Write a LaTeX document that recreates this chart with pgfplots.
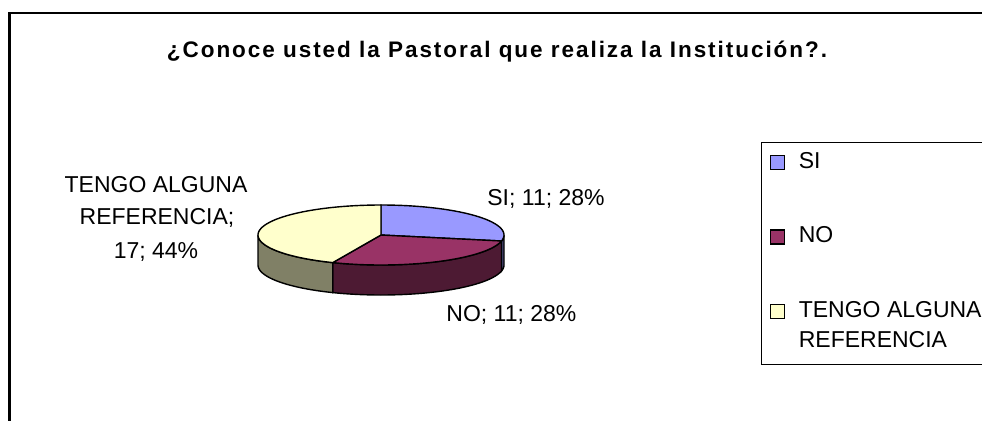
\documentclass[border=0pt]{standalone}
\usepackage{fontspec}
\setmainfont{Liberation Sans}
\usepackage{pgfplots}
\pgfplotsset{compat=1.18}
\usepackage{pgfplotstable}

\pgfplotstableread{
label value
SI 11
NO 11
TENGO 17
}\piedata

\definecolor{cSI}{HTML}{9999FF}
\definecolor{cNO}{HTML}{993366}
\definecolor{cTE}{HTML}{FFFFCC}
\definecolor{dSI}{HTML}{4D4D80}
\definecolor{dNO}{HTML}{4D1A33}
\definecolor{dTE}{HTML}{808066}

\def\pieX{381}
\def\pieY{185}
\def\pieRX{123}
\def\pieRY{30}
\def\pieD{30}
\newcommand\topstrut{\rule{0pt}{9pt}}
\newcommand\botstrut{\rule[-1.7pt]{0pt}{1.7pt}}
\newcommand\lastbotstrut{\rule[-4.5pt]{0pt}{4.5pt}}

\pgfplotstablegetelem{0}{value}\of\piedata \let\vA\pgfplotsretval
\pgfplotstablegetelem{1}{value}\of\piedata \let\vB\pgfplotsretval
\pgfplotstablegetelem{2}{value}\of\piedata \let\vC\pgfplotsretval
\pgfmathsetmacro{\tot}{\vA+\vB+\vC}
\pgfmathsetmacro{\aA}{90-360*\vA/\tot}
\pgfmathsetmacro{\aB}{\aA-360*\vB/\tot}
\pgfmathtruncatemacro{\pA}{round(100*\vA/\tot)}
\pgfmathtruncatemacro{\pB}{round(100*\vB/\tot)}
\pgfmathtruncatemacro{\pC}{round(100*\vC/\tot)}

\begin{document}
\begin{tikzpicture}[font=\fontsize{11.5}{16.5}\selectfont]
\useasboundingbox (0,0) rectangle (491pt,210pt);
\clip (0,0) rectangle (491pt,210pt);
\begin{axis}[
  at={(0,0)}, anchor=south west,
  scale only axis, width=491pt, height=210pt,
  xmin=0, xmax=982, ymin=0, ymax=420,
  hide axis, clip=true,
  declare function={
    th(\s,\a,\b) = (\s<1) ? (\a+(\b-\a)*\s) : ((\s<2) ? \b : (\b-(\b-\a)*(\s-2)));
    yo(\s) = (\s<1) ? 0 : ((\s<2) ? (-\pieD*(\s-1)) : (-\pieD));
  },
  legend image code/.code={\draw[#1,line width=0.6pt] (0pt,-0.5pt) rectangle (7pt,6.5pt);},
  legend cell align=left,
  legend style={at={(axis description cs:0.775,0.662)}, anchor=north west,
    draw=black, line width=0.6pt, inner xsep=4pt, inner ysep=2pt,
    row sep=22.5pt, column sep=5pt,
    font=\fontsize{11.5}{15}\selectfont,
    cells={anchor=base west, inner sep=0pt},
    nodes={text depth=}},
]
% side walls (front half)
\addplot[forget plot, fill=dSI, draw=black, line width=0.7pt, domain=0:3, samples=121, variable=\t]
  ({\pieX+\pieRX*cos(th(\t,\aA,0))}, {\pieY+\pieRY*sin(th(\t,\aA,0))+yo(\t)}) -- cycle;
\addplot[forget plot, fill=dNO, draw=black, line width=0.7pt, domain=0:3, samples=121, variable=\t]
  ({\pieX+\pieRX*cos(th(\t,\aB,\aA))}, {\pieY+\pieRY*sin(th(\t,\aB,\aA))+yo(\t)}) -- cycle;
\addplot[forget plot, fill=dTE, draw=black, line width=0.7pt, domain=0:3, samples=121, variable=\t]
  ({\pieX+\pieRX*cos(th(\t,-180,\aB))}, {\pieY+\pieRY*sin(th(\t,-180,\aB))+yo(\t)}) -- cycle;
% top faces
\addplot[forget plot, fill=cSI, draw=black, line width=0.7pt, domain=\aA:90, samples=60, variable=\t]
  ({\pieX+\pieRX*cos(\t)}, {\pieY+\pieRY*sin(\t)}) -- (axis cs:\pieX,\pieY) -- cycle;
\addplot[forget plot, fill=cNO, draw=black, line width=0.7pt, domain=\aB:\aA, samples=60, variable=\t]
  ({\pieX+\pieRX*cos(\t)}, {\pieY+\pieRY*sin(\t)}) -- (axis cs:\pieX,\pieY) -- cycle;
\addplot[forget plot, fill=cTE, draw=black, line width=0.7pt, domain=-270:\aB, samples=80, variable=\t]
  ({\pieX+\pieRX*cos(\t)}, {\pieY+\pieRY*sin(\t)}) -- (axis cs:\pieX,\pieY) -- cycle;

\addlegendimage{fill=cSI, draw=black}
\addlegendentry{\topstrut SI\botstrut}
\addlegendimage{fill=cNO, draw=black}
\addlegendentry{\topstrut NO\botstrut}
\addlegendimage{fill=cTE, draw=black}
\addlegendentry{\vtop{\hbox{\topstrut TENGO ALGUNA}\hbox{REFERENCIA\lastbotstrut}}}

% data labels
\node[anchor=base west, inner sep=0pt] at (axis cs:487,215) {SI; \vA; \pA\%};
\node[anchor=base west, inner sep=0pt] at (axis cs:446,99) {NO; \vB; \pB\%};
\node[anchor=base, inner sep=0pt] at (axis cs:156,228) {TENGO ALGUNA};
\node[anchor=base, inner sep=0pt] at (axis cs:157,196) {REFERENCIA;};
\node[anchor=base, inner sep=0pt] at (axis cs:156,162) {\vC; \pC\%};

% title
\node[anchor=base, inner sep=0pt, font=\fontsize{11.25}{13}\selectfont\bfseries\addfontfeatures{LetterSpace=8.7}]
  at (axis cs:497,363) {¿Conoce usted la Pastoral que realiza la Institución?.};

% chart frame
\draw[line width=1.3pt] (axis cs:9.7,-20) -- (axis cs:9.7,407.2) -- (axis cs:1000,407.2);
\end{axis}
\end{tikzpicture}
\end{document}
